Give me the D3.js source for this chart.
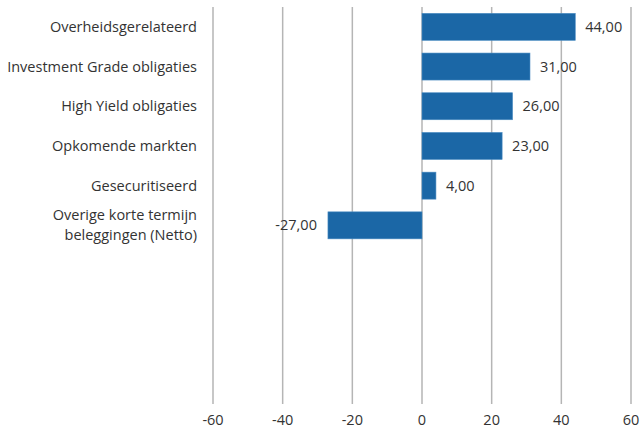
<!DOCTYPE html>
<html lang="nl">
<head>
    <meta charset="UTF-8">
    <title>Allocatie</title>
    <script src="https://d3js.org/d3.v7.min.js"></script>
    <style>
        body {
            margin: 0;
            background: #fff;
            font-family: "Open Sans", Arial, sans-serif;
        }
        text {
            fill: #333;
            font-size: 14.5px;
        }
    </style>
</head>
<body>
    <div id="chart"></div>
    <script>
        const categories = [
            ["Overheidsgerelateerd"],
            ["Investment Grade obligaties"],
            ["High Yield obligaties"],
            ["Opkomende markten"],
            ["Gesecuritiseerd"],
            ["Overige korte termijn", "beleggingen (Netto)"]
        ];
        const values = [44, 31, 26, 23, 4, -27];
        const xTicks = [-60, -40, -20, 0, 20, 40, 60];
        const slotCount = 10;

        const W = 641, H = 430;
        const margin = { top: 7, right: 10, bottom: 26, left: 213 };

        const svg = d3.select("#chart").append("svg")
            .attr("width", W)
            .attr("height", H);

        const x = d3.scaleLinear()
            .domain([-60, 60])
            .range([margin.left, 631]);

        const y = d3.scaleBand()
            .domain(d3.range(slotCount))
            .range([margin.top, H - margin.bottom])
            .paddingInner(0.32)
            .paddingOuter(0.16);

        // vertical gridlines
        svg.append("g")
            .selectAll("line")
            .data(xTicks)
            .enter().append("line")
            .attr("x1", d => x(d))
            .attr("x2", d => x(d))
            .attr("y1", margin.top)
            .attr("y2", H - margin.bottom)
            .attr("stroke", "#b5b5b5")
            .attr("stroke-width", 1.5);

        // tick labels
        svg.append("g")
            .selectAll("text")
            .data(xTicks)
            .enter().append("text")
            .attr("x", d => x(d))
            .attr("y", 420)
            .attr("dy", "0.35em")
            .attr("text-anchor", "middle")
            .text(d => d);

        // bars
        svg.append("g")
            .selectAll("rect")
            .data(values)
            .enter().append("rect")
            .attr("x", d => x(Math.min(0, d)))
            .attr("y", (d, i) => y(i))
            .attr("width", d => Math.abs(x(d) - x(0)))
            .attr("height", y.bandwidth())
            .attr("fill", "#1b67a6")
            .attr("stroke", "#4a8cc2")
            .attr("stroke-width", 0.6);

        // value labels (comma decimal, plain hyphen for negatives)
        svg.append("g")
            .selectAll("text")
            .data(values)
            .enter().append("text")
            .attr("x", d => d >= 0 ? x(d) + 10 : x(d) - 11)
            .attr("y", (d, i) => y(i) + y.bandwidth() / 2)
            .attr("dy", "0.35em")
            .attr("text-anchor", d => d >= 0 ? "start" : "end")
            .text(d => d.toFixed(2).replace(".", ","));

        // category labels
        const cat = svg.append("g")
            .selectAll("text")
            .data(categories)
            .enter().append("text")
            .attr("text-anchor", "end")
            .attr("y", (d, i) => y(i) + y.bandwidth() / 2);

        cat.selectAll("tspan")
            .data(d => d.map((t, j) => ({ t, j, n: d.length })))
            .enter().append("tspan")
            .attr("x", 197)
            .attr("dy", d => d.j === 0 ? (0.35 - (d.n - 1) * 0.69) + "em" : "1.38em")
            .text(d => d.t);
    </script>
</body>
</html>
